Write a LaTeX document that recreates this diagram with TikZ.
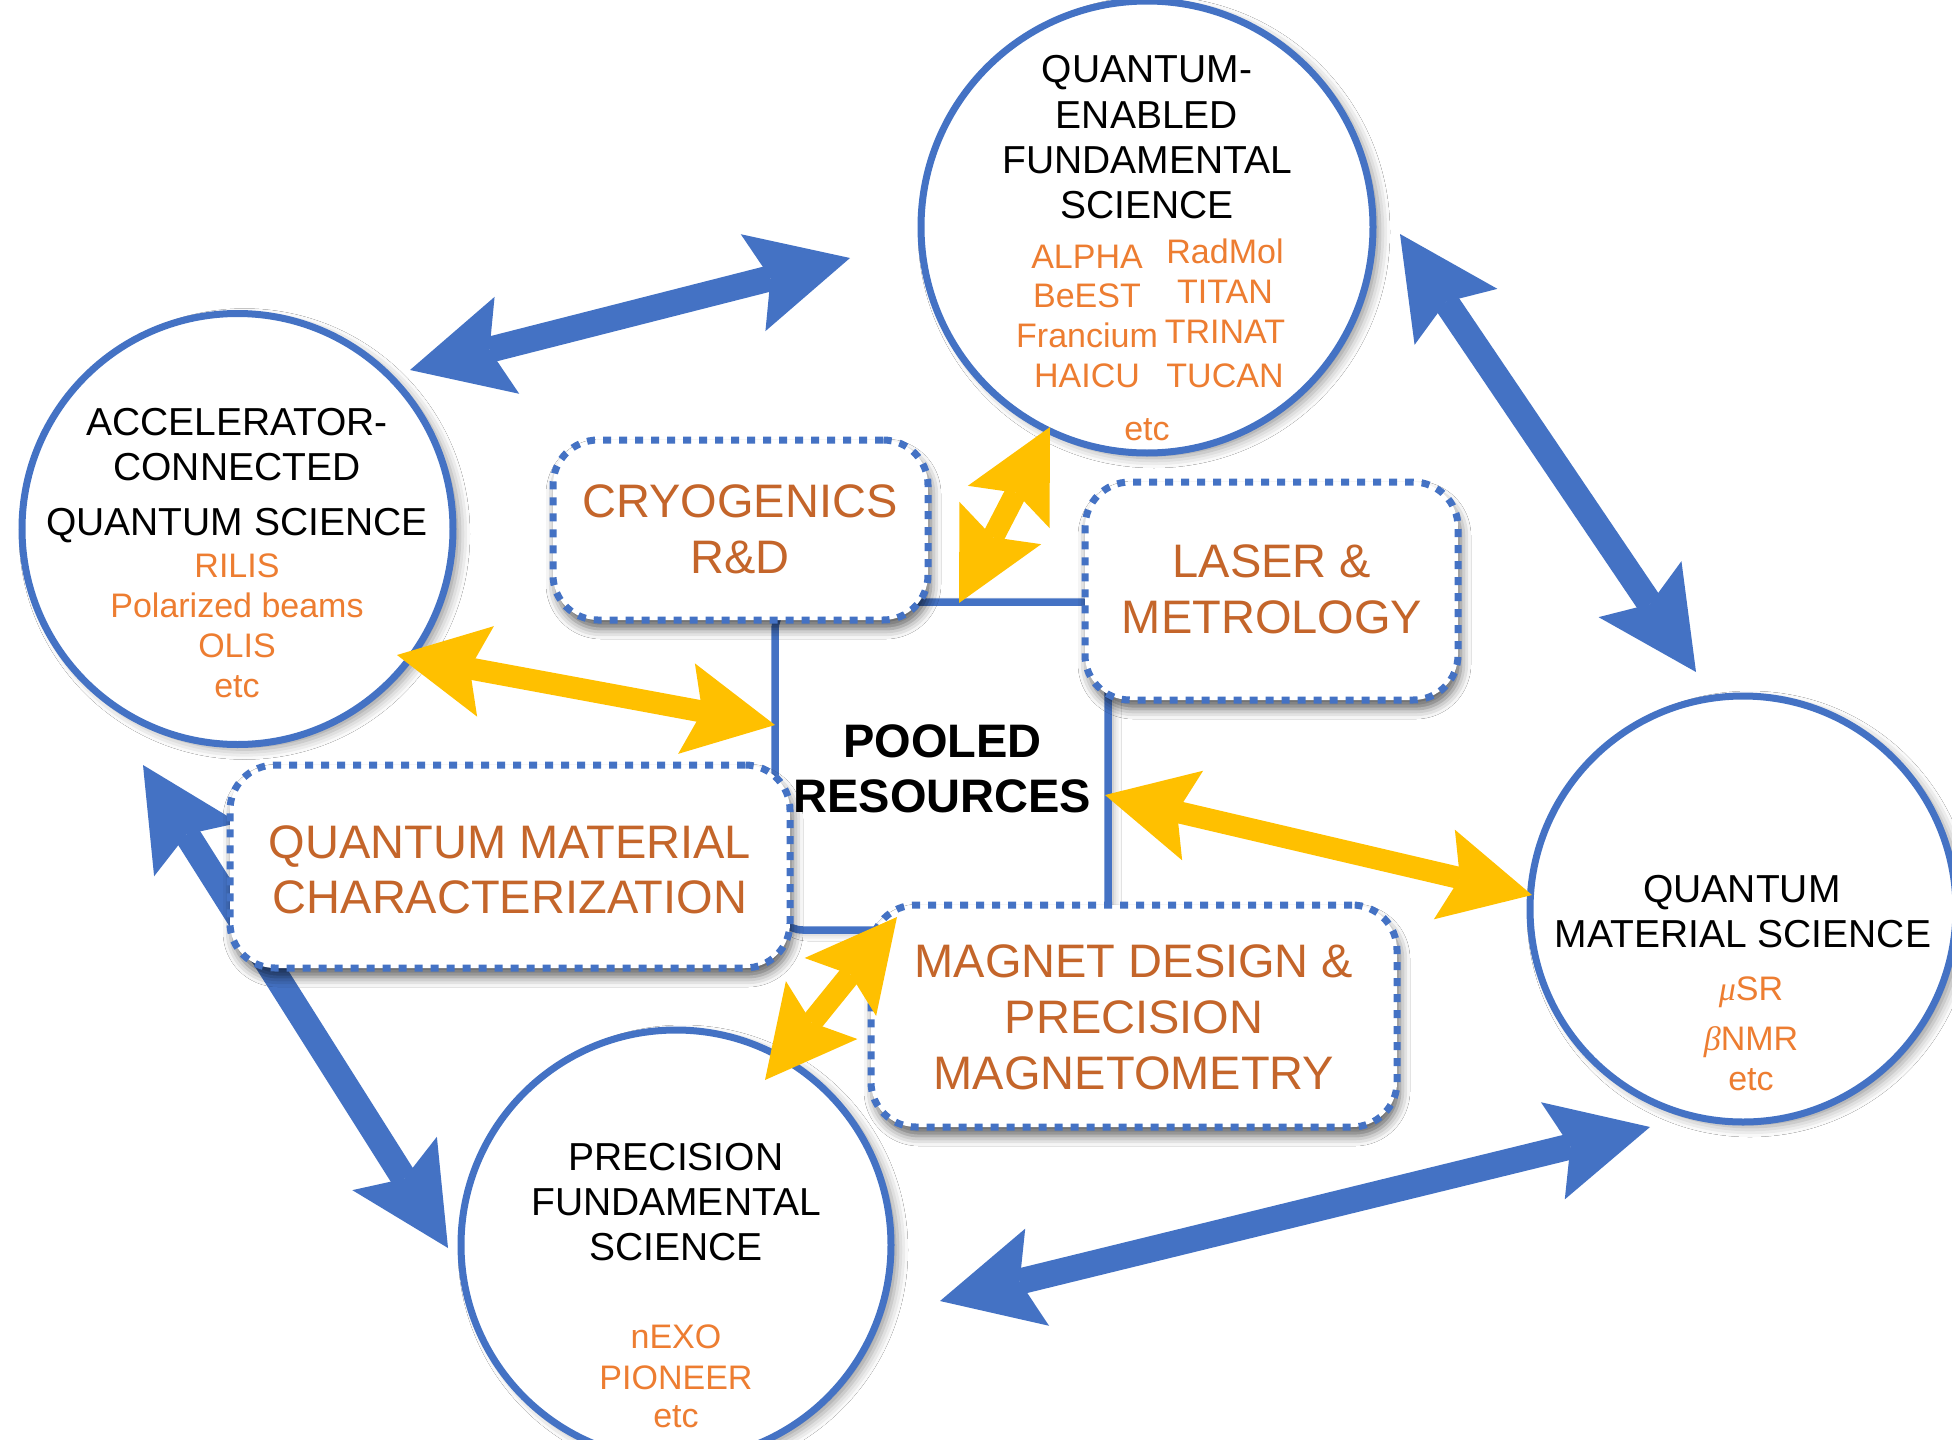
\documentclass[tikz,border=0pt]{standalone}
\usepackage{fontspec}
\setmainfont{Liberation Sans}
\newfontfamily\grk{Liberation Serif}
\usetikzlibrary{arrows.meta,shadows.blur}
\definecolor{qblue}{RGB}{68,114,196}
\definecolor{qorange}{RGB}{237,125,49}
\definecolor{qbrown}{RGB}{196,101,42}
\definecolor{qyellow}{RGB}{255,192,0}
\begin{document}
\begin{tikzpicture}[x=1pt,y=-1pt,
  bigcirc/.style={circle, draw=qblue, line width=7pt, fill=white, inner sep=0pt, minimum size=#1,
    blur shadow={shadow xshift=7pt, shadow yshift=-5pt, shadow blur radius=10pt, shadow opacity=40}},
  poolbox/.style={rectangle, rounded corners=28pt, draw=qblue, line width=7.5pt, fill=white, inner sep=0pt,
    blur shadow={shadow xshift=5pt, shadow yshift=-3pt, shadow blur radius=8pt, shadow opacity=35}},
  dotbox/.style={rectangle, rounded corners=45pt, draw=qblue, line width=7pt, dash pattern=on 8pt off 8pt,
    fill=white, inner sep=0pt,
    blur shadow={shadow xshift=3pt, shadow yshift=-9pt, shadow blur radius=10pt, shadow opacity=60}},
  blk/.style={font={\fontsize{39}{45}\selectfont}, text=black, anchor=base, inner sep=0pt},
  org/.style={font={\fontsize{34}{40}\selectfont}, text=qorange, anchor=base, inner sep=0pt},
  brn/.style={font={\fontsize{47}{56}\selectfont}, text=qbrown, anchor=base, inner sep=0pt},
  pool/.style={font={\fontsize{47}{55}\selectfont\bfseries}, text=black, anchor=base, inner sep=0pt},
  barrow/.style={draw=qblue, line width=26pt, >={Stealth[length=100pt,width=100pt,inset=18pt,line width=0pt]}, <->},
  yarrow/.style={draw=qyellow, line width=22pt, >={Stealth[length=90pt,width=92pt,inset=16pt,line width=0pt]}, <->}
]
\useasboundingbox (0,0) rectangle (1952,1440);
\fill[white] (0,0) rectangle (1952,1440);

% circles
\node[bigcirc=452pt] (qef) at (1147,227) {};
\node[bigcirc=431pt] (acc) at (237.5,529) {};
\node[bigcirc=426pt] (qms) at (1743,909) {};
\node[bigcirc=430pt] (pfs) at (676,1245) {};

% circle texts
\node[blk] (qef1) at (1147,82) {QUANTUM-};
\node[blk] (qef2) at (1147,128) {ENABLED};
\node[blk] (qef3) at (1147,173) {FUNDAMENTAL};
\node[blk] (qef4) at (1147,218) {SCIENCE};
\node[org] (qefa) at (1087,268) {ALPHA};
\node[org] (qefb) at (1087,307) {BeEST};
\node[org] (qefc) at (1087,347) {Francium};
\node[org] (qefd) at (1087,387) {HAICU};
\node[org] (qefe) at (1225,263) {RadMol};
\node[org] (qeff) at (1225,303) {TITAN};
\node[org] (qefg) at (1225,343) {TRINAT};
\node[org] (qefh) at (1225,387) {TUCAN};
\node[org] (qefi) at (1147,440) {etc};

\node[blk] (acc1) at (237,435) {ACCELERATOR-};
\node[blk] (acc2) at (237,480) {CONNECTED};
\node[blk] (acc3) at (237,535) {QUANTUM SCIENCE};
\node[org] (acca) at (237,577) {RILIS};
\node[org] (accb) at (237,617) {Polarized beams};
\node[org] (accc) at (237,657) {OLIS};
\node[org] (accd) at (237,697) {etc};

\node[blk] (qms1) at (1742,902) {QUANTUM};
\node[blk] (qms2) at (1743,947) {MATERIAL SCIENCE};
\node[org] (qmsa) at (1751,1000) {{\grk\itshape μ}SR};
\node[org] (qmsb) at (1751,1050) {{\grk\itshape β}NMR};
\node[org] (qmsc) at (1751,1090) {etc};

\node[blk] (pfs1) at (676,1170) {PRECISION};
\node[blk] (pfs2) at (676,1215) {FUNDAMENTAL};
\node[blk] (pfs3) at (676,1260) {SCIENCE};
\node[org] (pfsa) at (676,1348) {nEXO};
\node[org] (pfsb) at (676,1389) {PIONEER};
\node[org] (pfsc) at (676,1427) {etc};

% blue arrows
\coordinate (b1a) at (410,370);  \coordinate (b1b) at (850,258);
\coordinate (b2a) at (1400,234); \coordinate (b2b) at (1696,672);
\coordinate (b3a) at (940,1301); \coordinate (b3b) at (1650,1127);
\coordinate (b4a) at (143,765);  \coordinate (b4b) at (448,1248);
\draw[barrow] (b1a) -- (b1b);
\draw[barrow] (b2a) -- (b2b);
\draw[barrow] (b3a) -- (b3b);
\draw[barrow] (b4a) -- (b4b);

% pooled resources
\node[poolbox, minimum width=333pt, minimum height=328pt] (pool) at (941.5,766) {};
\node[pool] (pool1) at (942.5,757) {POOLED};
\node[pool] (pool2) at (942.5,812) {RESOURCES};

% dotted boxes
\node[dotbox, minimum width=375pt, minimum height=180pt] (cryo) at (740.5,530) {};
\node[dotbox, minimum width=373pt, minimum height=218pt] (laser) at (1271.5,591) {};
\node[dotbox, minimum width=560pt, minimum height=203pt] (qmc) at (510,866.5) {};
\node[dotbox, minimum width=526pt, minimum height=222pt] (mag) at (1134,1016) {};

\node[brn] (cryo1) at (740,517) {CRYOGENICS};
\node[brn] (cryo2) at (740,573) {R\&D};
\node[brn] (laser1) at (1272,577) {LASER \&};
\node[brn] (laser2) at (1272,633) {METROLOGY};
\node[brn] (qmc1) at (510,858) {QUANTUM MATERIAL};
\node[brn] (qmc2) at (510,913) {CHARACTERIZATION};
\node[brn] (mag1) at (1134,977) {MAGNET DESIGN \&};
\node[brn] (mag2) at (1134,1033) {PRECISION};
\node[brn] (mag3) at (1134,1089) {MAGNETOMETRY};

% yellow arrows
\coordinate (y1a) at (959,603);  \coordinate (y1b) at (1050,427);
\coordinate (y2a) at (397,655);  \coordinate (y2b) at (775,725);
\coordinate (y3a) at (1105,795); \coordinate (y3b) at (1532,895);
\coordinate (y4a) at (897,917);  \coordinate (y4b) at (765,1080);
\draw[yarrow] (y1a) -- (y1b);
\draw[yarrow] (y2a) -- (y2b);
\draw[yarrow] (y3a) -- (y3b);
\draw[yarrow] (y4a) -- (y4b);
\end{tikzpicture}
\end{document}
